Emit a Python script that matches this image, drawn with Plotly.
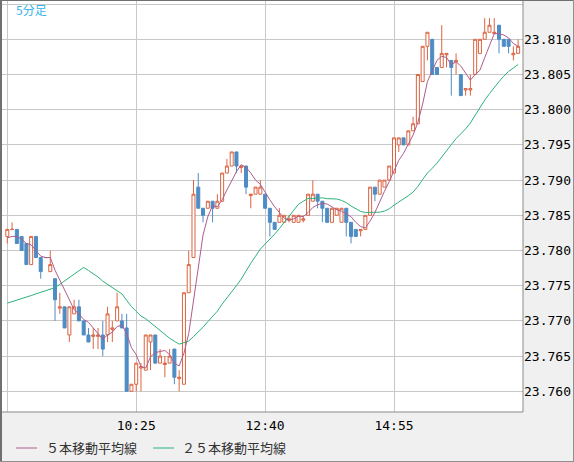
import plotly.graph_objects as go
import pandas as pd

# ---- data (5-minute bars from 08:10 to 17:05) ----
opens = [23.782, 23.783, 23.783, 23.782, 23.781, 23.778, 23.782, 23.779, 23.779, 23.777,
         23.776, 23.7718, 23.772, 23.768, 23.771, 23.772, 23.770, 23.768, 23.7678, 23.7678,
         23.768, 23.768, 23.7688, 23.770, 23.770, 23.769, 23.760, 23.761, 23.7633, 23.763,
         23.767, 23.768, 23.764, 23.7638, 23.764, 23.766, 23.7618, 23.761, 23.774, 23.779,
         23.789, 23.786, 23.786, 23.787, 23.786, 23.787, 23.791, 23.792, 23.794, 23.7918,
         23.792, 23.7878, 23.788, 23.788, 23.788, 23.786, 23.784, 23.784, 23.784, 23.7843,
         23.784, 23.784, 23.7843, 23.785, 23.787, 23.788, 23.787, 23.786, 23.784, 23.785,
         23.784, 23.786, 23.784, 23.783, 23.7828, 23.783, 23.785, 23.789, 23.788, 23.789,
         23.790, 23.791, 23.795, 23.796, 23.795, 23.797, 23.798, 23.804, 23.809, 23.810,
         23.806, 23.806, 23.8078, 23.807, 23.8068, 23.805, 23.8028, 23.8028, 23.805, 23.808,
         23.810, 23.811, 23.8108, 23.812, 23.810, 23.810, 23.8078, 23.808]
highs = [23.783, 23.784, 23.783, 23.782, 23.781, 23.782, 23.782, 23.779, 23.779, 23.780,
         23.776, 23.774, 23.772, 23.772, 23.773, 23.773, 23.770, 23.769, 23.769, 23.769,
         23.770, 23.772, 23.770, 23.774, 23.771, 23.771, 23.761, 23.764, 23.764, 23.768,
         23.768, 23.768, 23.766, 23.765, 23.766, 23.766, 23.763, 23.774, 23.780, 23.790,
         23.791, 23.786, 23.787, 23.787, 23.788, 23.791, 23.793, 23.794, 23.794, 23.792,
         23.792, 23.788, 23.789, 23.790, 23.788, 23.786, 23.784, 23.786, 23.785, 23.785,
         23.785, 23.785, 23.785, 23.788, 23.790, 23.788, 23.787, 23.786, 23.786, 23.786,
         23.786, 23.786, 23.784, 23.783, 23.783, 23.785, 23.789, 23.789, 23.790, 23.790,
         23.792, 23.796, 23.796, 23.796, 23.797, 23.799, 23.805, 23.809, 23.811, 23.810,
         23.806, 23.812, 23.808, 23.807, 23.808, 23.805, 23.803, 23.805, 23.810, 23.810,
         23.813, 23.813, 23.813, 23.812, 23.810, 23.810, 23.809, 23.810]
lows = [23.781, 23.783, 23.781, 23.780, 23.778, 23.778, 23.779, 23.776, 23.779, 23.777,
        23.770, 23.771, 23.769, 23.767, 23.771, 23.770, 23.768, 23.767, 23.766, 23.766,
        23.765, 23.767, 23.767, 23.770, 23.769, 23.760, 23.760, 23.760, 23.760, 23.763,
        23.763, 23.764, 23.764, 23.762, 23.764, 23.761, 23.760, 23.761, 23.774, 23.779,
        23.786, 23.784, 23.786, 23.784, 23.786, 23.787, 23.791, 23.792, 23.791, 23.791,
        23.788, 23.786, 23.788, 23.788, 23.786, 23.782, 23.783, 23.784, 23.784, 23.784,
        23.784, 23.784, 23.784, 23.785, 23.787, 23.786, 23.784, 23.784, 23.784, 23.785,
        23.784, 23.782, 23.781, 23.782, 23.782, 23.783, 23.785, 23.787, 23.788, 23.789,
        23.790, 23.791, 23.794, 23.795, 23.795, 23.797, 23.798, 23.804, 23.807, 23.805,
        23.805, 23.806, 23.806, 23.802, 23.805, 23.802, 23.802, 23.802, 23.805, 23.808,
        23.810, 23.811, 23.811, 23.808, 23.809, 23.808, 23.807, 23.808]
closes = [23.783, 23.783, 23.781, 23.780, 23.778, 23.782, 23.779, 23.777, 23.779, 23.778,
          23.773, 23.772, 23.769, 23.772, 23.772, 23.770, 23.768, 23.767, 23.768, 23.768,
          23.766, 23.771, 23.769, 23.772, 23.769, 23.760, 23.761, 23.764, 23.7635, 23.768,
          23.768, 23.764, 23.765, 23.764, 23.765, 23.762, 23.762, 23.774, 23.778, 23.788,
          23.786, 23.785, 23.787, 23.786, 23.787, 23.791, 23.792, 23.794, 23.792, 23.792,
          23.789, 23.788, 23.789, 23.789, 23.786, 23.784, 23.783, 23.785, 23.785, 23.7845,
          23.785, 23.785, 23.7845, 23.788, 23.788, 23.787, 23.786, 23.784, 23.786, 23.786,
          23.786, 23.784, 23.782, 23.782, 23.783, 23.785, 23.789, 23.788, 23.790, 23.790,
          23.792, 23.796, 23.796, 23.795, 23.797, 23.798, 23.805, 23.809, 23.811, 23.805,
          23.805, 23.808, 23.808, 23.806, 23.807, 23.802, 23.803, 23.803, 23.810, 23.810,
          23.811, 23.812, 23.811, 23.810, 23.809, 23.809, 23.808, 23.809]
# closes of the 24 bars before the visible window (needed for the moving averages)
prior_closes = [23.778, 23.776, 23.774, 23.773, 23.776, 23.773, 23.772, 23.773, 23.772, 23.768,
                23.760, 23.757, 23.760, 23.760, 23.758, 23.756, 23.778, 23.779, 23.780, 23.781,
                23.782, 23.781, 23.782, 23.781]

x_tick_index = [0, 27, 54, 81]
x_tick_labels = ["", "10:25", "12:40", "14:55"]
y_tick_values = [23.760, 23.765, 23.770, 23.775, 23.780, 23.785, 23.790, 23.795, 23.800, 23.805, 23.810, 23.815]
y_tick_labels = ["23.760", "23.765", "23.770", "23.775", "23.780", "23.785", "23.790", "23.795",
                 "23.800", "23.805", "23.810", ""]
legend_labels = ["５本移動平均線", "２５本移動平均線"]
title_label = "5分足"

# ---- derived ----
n = len(closes)
idx = list(range(n))
allc = pd.Series(prior_closes + closes)
ma5 = allc.rolling(5).mean().iloc[len(prior_closes):].tolist()
ma25 = allc.rolling(25).mean().iloc[len(prior_closes):].tolist()

UP = "#dc6440"
DOWN = "#4d8cc4"
MA5C = "#b05c8c"
MA25C = "#2db27a"
GRID = "#c8c8c8"

fig = go.Figure()
fig.add_trace(go.Candlestick(
    x=idx, open=opens, high=highs, low=lows, close=closes,
    increasing=dict(line=dict(color=UP, width=1), fillcolor="white"),
    decreasing=dict(line=dict(color=DOWN, width=1), fillcolor=DOWN),
    whiskerwidth=0, showlegend=False, hoverinfo="skip"))
fig.add_trace(go.Scatter(x=idx, y=ma25, mode="lines", line=dict(color=MA25C, width=1),
                         showlegend=False, hoverinfo="skip"))
fig.add_trace(go.Scatter(x=idx, y=ma5, mode="lines", line=dict(color=MA5C, width=1),
                         showlegend=False, hoverinfo="skip"))

W, H = 574, 462
L, R, T, B = 2, 51, 1, 50
pw, ph = W - L - R, H - T - B

def px(xp):
    return (xp - L) / pw

def py(yp):
    return (H - B - yp) / ph

shapes = [
    # plot border right / bottom
    dict(type="line", xref="paper", yref="paper", x0=1, x1=1, y0=0, y1=1, line=dict(color="#8a8a8a", width=1)),
    dict(type="line", xref="paper", yref="paper", x0=px(1), x1=1, y0=0, y1=0, line=dict(color="#8a8a8a", width=1)),
    # outer frame
    dict(type="line", xref="paper", yref="paper", x0=px(1), x1=px(1), y0=py(0), y1=py(H), line=dict(color="#707070", width=2)),
    dict(type="line", xref="paper", yref="paper", x0=px(0), x1=px(W), y0=py(0.5), y1=py(0.5), line=dict(color="#707070", width=1)),
    dict(type="line", xref="paper", yref="paper", x0=px(W - 0.5), x1=px(W - 0.5), y0=py(0), y1=py(H), line=dict(color="#909090", width=1)),
    dict(type="line", xref="paper", yref="paper", x0=px(0), x1=px(W), y0=py(H - 0.5), y1=py(H - 0.5), line=dict(color="#909090", width=1)),
    # legend samples
    dict(type="line", xref="paper", yref="paper", x0=px(16), x1=px(37), y0=py(448), y1=py(448), line=dict(color=MA5C, width=1)),
    dict(type="line", xref="paper", yref="paper", x0=px(153), x1=px(174), y0=py(448), y1=py(448), line=dict(color=MA25C, width=1)),
]

annotations = [
    dict(text=legend_labels[0], xref="paper", yref="paper", x=px(44), y=py(448), xanchor="left", yanchor="middle",
         showarrow=False, font=dict(family="Noto Sans CJK JP", size=13, color="#333333")),
    dict(text=legend_labels[1], xref="paper", yref="paper", x=px(180), y=py(448), xanchor="left", yanchor="middle",
         showarrow=False, font=dict(family="Noto Sans CJK JP", size=13, color="#333333")),
    dict(text=title_label, xref="paper", yref="paper", x=px(14), y=py(10), xanchor="left", yanchor="middle",
         showarrow=False, font=dict(family="Noto Sans CJK JP", size=12, color="#3ab4ea")),
]

fig.update_layout(
    width=W, height=H, margin=dict(l=L, r=R, t=T, b=B, pad=0),
    paper_bgcolor="#f0f0f0", plot_bgcolor="white",
    showlegend=False, boxgap=0.37, boxgroupgap=0,
    shapes=shapes, annotations=annotations,
    xaxis=dict(range=[-1.11, 108.02], tickmode="array", tickvals=x_tick_index, ticktext=x_tick_labels,
               showgrid=True, gridcolor=GRID, gridwidth=1, zeroline=False, showline=False, ticks="",
               ticklabelstandoff=4,
               tickfont=dict(family="DejaVu Sans Mono", size=13, color="#000000"),
               rangeslider=dict(visible=False), fixedrange=True),
    yaxis=dict(range=[23.75706, 23.81544], side="right", tickmode="array", tickvals=y_tick_values,
               ticktext=y_tick_labels, showgrid=True, gridcolor=GRID, gridwidth=1, zeroline=False,
               showline=False, ticks="", tickfont=dict(family="DejaVu Sans Mono", size=13, color="#000000"),
               fixedrange=True),
)

fig.write_html("out.html")
